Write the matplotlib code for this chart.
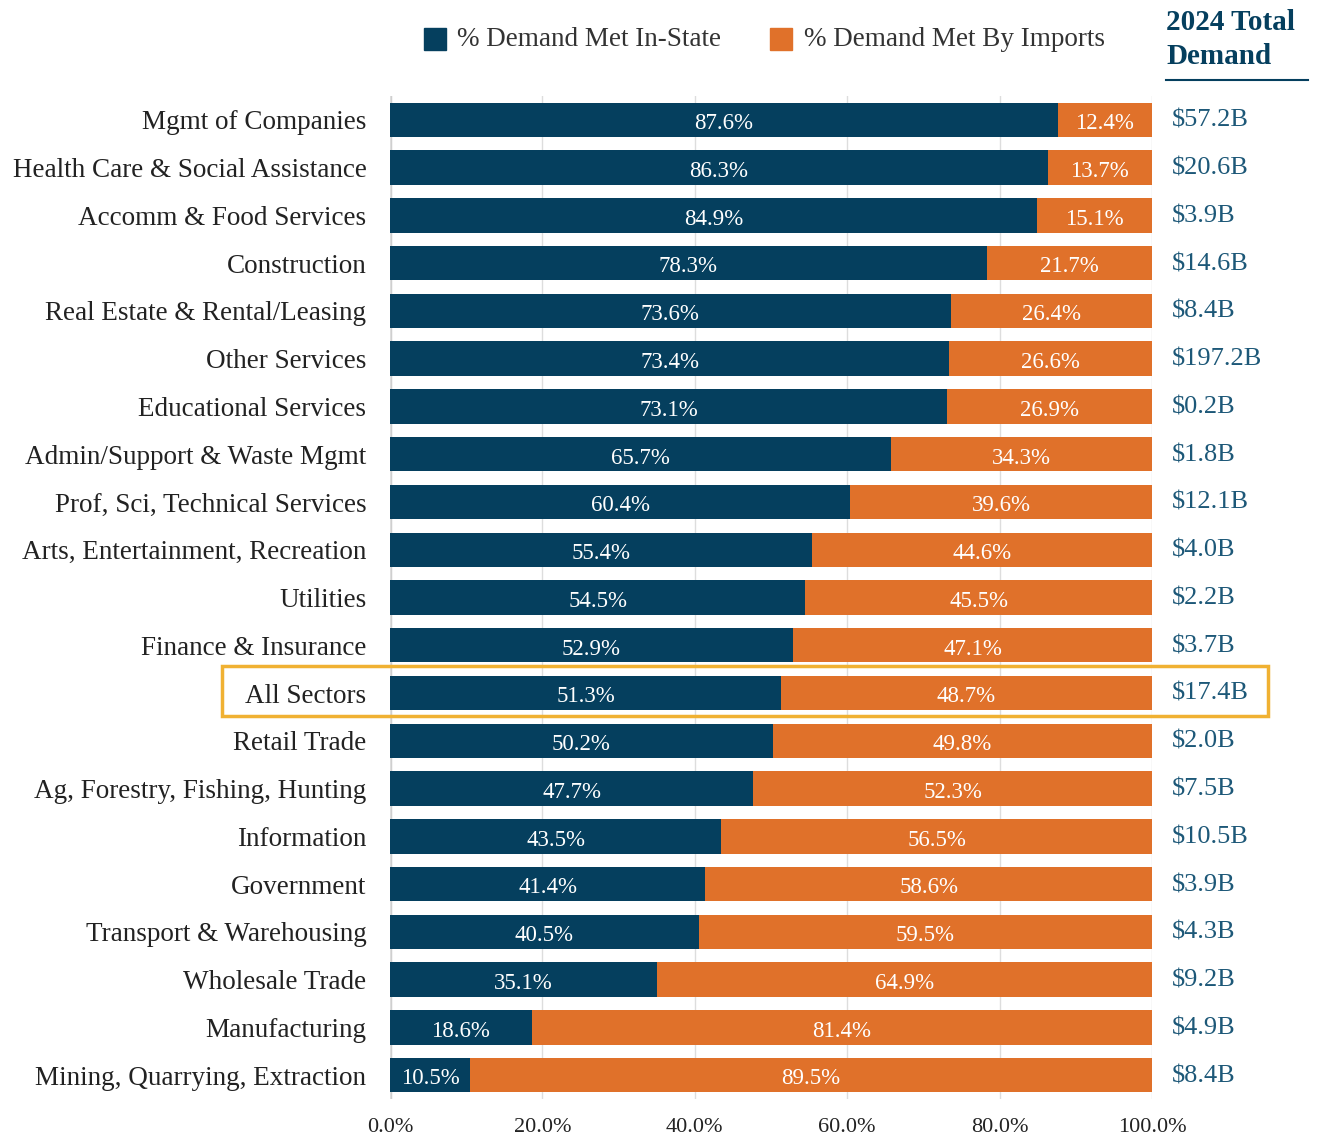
import numpy as np
import matplotlib.pyplot as plt
from matplotlib.patches import Rectangle

sectors = ["Mgmt of Companies", "Health Care & Social Assistance", "Accomm & Food Services",
           "Construction", "Real Estate & Rental/Leasing", "Other Services",
           "Educational Services", "Admin/Support & Waste Mgmt", "Prof, Sci, Technical Services",
           "Arts, Entertainment, Recreation", "Utilities", "Finance & Insurance",
           "All Sectors", "Retail Trade", "Ag, Forestry, Fishing, Hunting", "Information",
           "Government", "Transport & Warehousing", "Wholesale Trade", "Manufacturing",
           "Mining, Quarrying, Extraction"]
in_state = [87.6, 86.3, 84.9, 78.3, 73.6, 73.4, 73.1, 65.7, 60.4, 55.4, 54.5, 52.9,
            51.3, 50.2, 47.7, 43.5, 41.4, 40.5, 35.1, 18.6, 10.5]
imports = [12.4, 13.7, 15.1, 21.7, 26.4, 26.6, 26.9, 34.3, 39.6, 44.6, 45.5, 47.1,
           48.7, 49.8, 52.3, 56.5, 58.6, 59.5, 64.9, 81.4, 89.5]
total_demand = ["$57.2B", "$20.6B", "$3.9B", "$14.6B", "$8.4B", "$197.2B", "$0.2B", "$1.8B",
                "$12.1B", "$4.0B", "$2.2B", "$3.7B", "$17.4B", "$2.0B", "$7.5B", "$10.5B",
                "$3.9B", "$4.3B", "$9.2B", "$4.9B", "$8.4B"]

navy = "#053f5e"
orange = "#e0712a"
gold = "#f0b132"
txt_blue = "#1d5878"

plt.rcParams['font.family'] = ['Liberation Serif', 'DejaVu Serif']

fig = plt.figure(figsize=(13.18, 11.42), dpi=100)
ax = fig.add_axes([390/1318, 1 - 1099/1142, 762/1318, (1099 - 96)/1142])

y = np.arange(len(sectors))
ax.barh(y, in_state, height=0.72, color=navy, zorder=3)
ax.barh(y, imports, left=in_state, height=0.72, color=orange, zorder=3)

for i in range(len(sectors)):
    ax.text(in_state[i] / 2, i + 0.08, f"{in_state[i]:.1f}%", color="white",
            ha="center", va="center", fontsize=16.5, zorder=4)
    ax.text(in_state[i] + imports[i] / 2, i + 0.08, f"{imports[i]:.1f}%", color="white",
            ha="center", va="center", fontsize=16.5, zorder=4)
    ax.text(102.6, i + 0.02, total_demand[i], color=txt_blue, ha="left", va="center", fontsize=19)

ax.set_ylim(len(sectors) - 0.5, -0.5)
ax.set_xlim(0, 100)
ax.set_yticks(y)
ax.set_yticklabels(sectors, fontsize=19.5)
ax.set_xticks([0, 20, 40, 60, 80, 100])
ax.set_xticklabels(["0.0%", "20.0%", "40.0%", "60.0%", "80.0%", "100.0%"], fontsize=16)
ax.tick_params(axis="both", length=0, colors="#222222")
ax.tick_params(axis="y", pad=17)
ax.tick_params(axis="x", pad=14)
for s in ax.spines.values():
    s.set_visible(False)
ax.grid(axis="x", color="#dddddd", linewidth=1, zorder=0)
ax.axvline(0, color="#cccccc", linewidth=2.5, zorder=1)

# highlight box around "All Sectors"
box = Rectangle((222/1318, 1 - 716/1142), (1268 - 222)/1318, 50/1142,
                transform=fig.transFigure, fill=False, edgecolor=gold, linewidth=2.5)
fig.patches.append(box)

# legend
fig.patches.append(Rectangle((424/1318, 1 - 50/1142), 22/1318, 22/1142,
                             transform=fig.transFigure, color=navy))
fig.text(457/1318, 1 - 40/1142, "% Demand Met In-State", fontsize=19.5, va="center", color="#333333")
fig.patches.append(Rectangle((770/1318, 1 - 50/1142), 22/1318, 22/1142,
                             transform=fig.transFigure, color=orange))
fig.text(804/1318, 1 - 40/1142, "% Demand Met By Imports", fontsize=19.5, va="center", color="#333333")

# header
fig.text(1166/1318, 1 - 22/1142, "2024 Total", fontsize=21, fontweight="bold", va="center", color=navy)
fig.text(1166/1318, 1 - 57/1142, "Demand", fontsize=21, fontweight="bold", va="center", color=navy)
fig.add_artist(plt.Line2D([1166/1318, 1308/1318], [1 - 80/1142, 1 - 80/1142],
                          transform=fig.transFigure, color=navy, linewidth=1.5))

fig.savefig("out.png", dpi=100)
